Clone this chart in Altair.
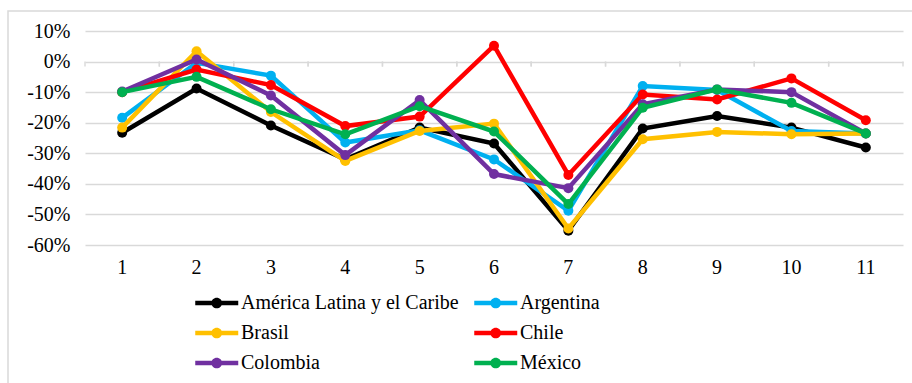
import altair as alt
import pandas as pd

# Periods on the horizontal axis
periods = [1, 2, 3, 4, 5, 6, 7, 8, 9, 10, 11]

# Year-on-year variation (%) by country / region
america_latina = [-23.3, -8.8, -20.9, -32.0, -21.6, -26.8, -55.3, -21.9, -17.8, -21.6, -28.1]
argentina = [-18.4, -0.4, -4.6, -26.5, -22.5, -32.0, -48.8, -8.0, -9.3, -22.7, -23.5]
brasil = [-21.6, 3.4, -16.5, -32.5, -22.7, -20.3, -54.6, -25.4, -23.0, -23.8, -23.5]
chile = [-10.0, -2.6, -7.7, -21.1, -18.0, 5.2, -37.1, -10.8, -12.4, -5.5, -19.2]
colombia = [-9.8, 0.7, -11.1, -30.6, -12.6, -36.8, -41.4, -14.0, -9.1, -10.0, -23.5]
mexico = [-10.0, -5.0, -15.6, -23.8, -14.6, -22.9, -46.6, -15.1, -9.1, -13.5, -23.5]

series_names = ["América Latina y el Caribe", "Argentina", "Brasil", "Chile", "Colombia", "México"]
series_values = [america_latina, argentina, brasil, chile, colombia, mexico]
series_colors = ["#000000", "#00B0F0", "#FFC000", "#FF0000", "#7030A0", "#00B050"]

y_ticks = [-0.6, -0.5, -0.4, -0.3, -0.2, -0.1, 0.0, 0.1]

rows = []
for name, vals in zip(series_names, series_values):
    for p, v in zip(periods, vals):
        rows.append({"periodo": str(p), "serie": name, "valor": v / 100})
df = pd.DataFrame(rows)

FONT = "Liberation Serif"
GRID = "#d9d9d9"
period_order = [str(p) for p in periods]

x_scale = alt.Scale(type="band", paddingInner=0, paddingOuter=0)
y_scale = alt.Scale(domain=[-0.6, 0.1], nice=False, zero=False)

x_axis = alt.Axis(title=None, labelAngle=0)
y_axis = alt.Axis(
    title=None, values=y_ticks, grid=True,
    labelExpr="(datum.value < -0.001 ? '-' : '') + format(abs(datum.value) * 100, '.0f') + '%'",
)

color_scale = alt.Scale(domain=series_names, range=series_colors)

# Legend symbol: a short line with a dot in the middle (drawn right of centre)
legend_symbol = (
    "M-1,-0.21L3,-0.21L3,0.21L-1,0.21Z"
    "M1.5,0A0.5,0.5,0,1,1,0.5,0A0.5,0.5,0,1,1,1.5,0Z"
)
legend = alt.Legend(
    title=None, orient="none", legendX=110, legendY=261, columns=2,
    direction="horizontal", symbolType=legend_symbol, symbolSize=462,
    symbolStrokeWidth=0, labelOffset=24, columnPadding=15, rowPadding=9,
    labelLimit=400,
)

base = alt.Chart(df)

# Outer frame around the whole figure
frame = alt.Chart(pd.DataFrame({"k": [0]})).mark_rect(
    fillOpacity=0, stroke=GRID, strokeWidth=1.5
).encode(
    x=alt.value(-77), x2=alt.value(840), y=alt.value(-20), y2=alt.value(400)
)

first = base.transform_filter(alt.datum.serie == series_names[0])

layers = [frame]

# Small tick marks hanging from the 0% line at category boundaries
for bp in (0, 1):
    layers.append(
        first.mark_rule(color=GRID, strokeWidth=1.4, y2Offset=5).encode(
            x=alt.X("periodo:N", sort=period_order, bandPosition=bp,
                    scale=x_scale, axis=x_axis),
            y=alt.YDatum(0, type="quantitative", scale=y_scale, axis=y_axis),
            y2=alt.datum(0),
        )
    )

for name, col in zip(series_names, series_colors):
    sub = base.transform_filter(alt.datum.serie == name)
    x_enc = alt.X("periodo:N", sort=period_order, bandPosition=0.5,
                  scale=x_scale, axis=x_axis)
    y_enc = alt.Y("valor:Q", scale=y_scale, axis=y_axis)
    line = sub.mark_line(strokeWidth=4.5, color=col).encode(x=x_enc, y=y_enc)
    pts = sub.mark_point(filled=True, size=100, opacity=1).encode(
        x=x_enc, y=y_enc,
        color=alt.Color("serie:N", scale=color_scale, legend=legend),
    )
    layers += [line, pts]

chart = (
    alt.layer(*layers)
    .properties(
        width=818,
        height=214,
        padding={"left": 85, "top": 31, "right": 9, "bottom": 138},
        autosize=alt.AutoSizeParams(type="none"),
    )
    .configure(background="#ffffff", font=FONT)
    .configure_view(strokeWidth=0)
    .configure_axis(
        labelFont=FONT, labelFontSize=20, labelColor="#000000",
        domain=False, ticks=False, labelOverlap=False,
        gridColor=GRID, gridWidth=1.4,
    )
    .configure_axisX(grid=False, labelPadding=12)
    .configure_axisY(labelPadding=15)
    .configure_legend(labelFont=FONT, labelFontSize=20, labelColor="#000000")
)

chart.save("out.html", embed_options={"renderer": "svg", "actions": False})
